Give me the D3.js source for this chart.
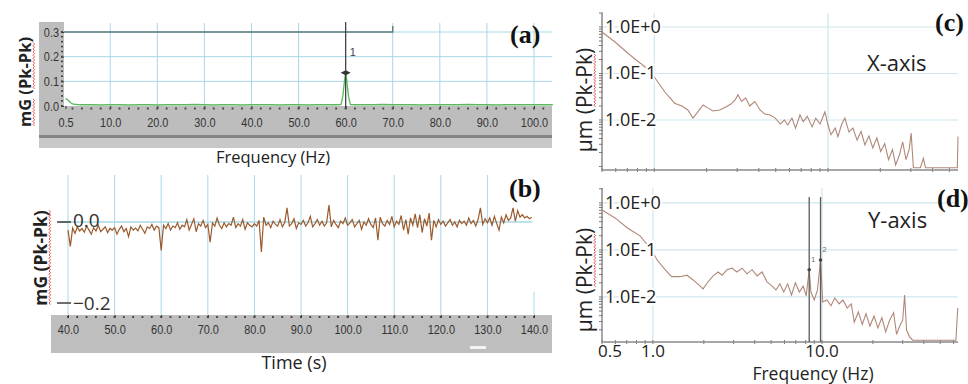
<!DOCTYPE html>
<html>
<head>
<meta charset="utf-8">
<script src="https://cdn.jsdelivr.net/npm/d3@7"></script>
<style>
  body { margin: 0; background: #fff; }
  svg { display: block; }
</style>
</head>
<body>
<svg id="chart"></svg>
<script>
// (a) spectrum, mG vs Hz
const specFreq = [0.5, 0.8, 1.2, 1.6, 2.0, 2.5, 3, 4, 5, 6, 8, 10, 12, 14, 16, 18, 20, 22, 24, 26, 28, 30, 32, 34, 36, 38, 40, 42, 44, 46, 48, 50, 52, 54, 56, 58, 59, 59.4, 59.8, 60, 60.2, 60.6, 61, 62, 64, 66, 68, 70, 72, 74, 76, 78, 80, 82, 84, 86, 88, 90, 92, 94, 96, 98, 100, 102, 104];
const specAmp = [0.030, 0.027, 0.020, 0.013, 0.009, 0.007, 0.006, 0.005, 0.005, 0.005, 0.004, 0.005, 0.005, 0.004, 0.005, 0.005, 0.004, 0.005, 0.005, 0.005, 0.006, 0.005, 0.004, 0.005, 0.005, 0.004, 0.005, 0.005, 0.005, 0.004, 0.005, 0.005, 0.004, 0.005, 0.005, 0.005, 0.006, 0.040, 0.110, 0.135, 0.110, 0.040, 0.006, 0.005, 0.005, 0.005, 0.006, 0.005, 0.005, 0.005, 0.004, 0.005, 0.005, 0.005, 0.005, 0.006, 0.005, 0.005, 0.004, 0.005, 0.005, 0.005, 0.005, 0.005, 0.005];
const specXTicks = [0.5, 10, 20, 30, 40, 50, 60, 70, 80, 90, 100];
const specYTicks = [0, 0.1, 0.2, 0.3];
const specPeak = { freq: 60, amp: 0.135 };
const specRefLine = { freq: 70, amp: 0.3 };

// (b) time signal, one sample every 0.5 s from 40 s
const timeStart = 40;
const timeStep = 0.5;
const timeVals = [
  -0.020, -0.060, -0.015, -0.028, -0.012, -0.022, -0.016, -0.025, -0.010, -0.020,
  -0.030, -0.014, -0.022, -0.008, -0.024, -0.018, -0.012, -0.026, -0.016, -0.020,
  -0.014, -0.030, -0.018, -0.010, -0.024, -0.016, -0.036, -0.012, -0.020, -0.015,
  -0.022, -0.008, -0.018, -0.028, -0.012, -0.016, -0.006, -0.020, -0.010, -0.014,
  -0.070, -0.008, -0.016, -0.004, -0.020, -0.010, -0.014, -0.002, -0.018, -0.008,
  -0.012, 0.006, -0.020, -0.006, 0.008, -0.024, -0.004, -0.010, 0.004, -0.014,
  -0.006, -0.050, -0.002, -0.010, 0.010, -0.008, -0.016, -0.002, -0.012, -0.004,
  -0.008, 0.012, -0.014, -0.004, -0.010, 0.006, -0.018, -0.002, -0.008, -0.012,
  -0.004, -0.010, 0.004, -0.074, 0.012, -0.008, -0.002, -0.014, 0.002, -0.006,
  -0.010, 0.006, -0.012, -0.002, 0.035, -0.010, -0.004, 0.008, -0.016, -0.002,
  -0.006, 0.004, -0.010, -0.002, 0.014, -0.012, -0.004, 0.006, -0.008, 0.002,
  -0.010, -0.002, 0.042, -0.012, 0.004, -0.006, -0.014, 0.002, -0.004, 0.010,
  -0.008, -0.002, 0.006, -0.012, -0.004, 0.004, -0.018, 0.000, -0.008, 0.008,
  -0.006, -0.014, 0.010, -0.045, 0.012, -0.004, -0.010, 0.004, -0.006, 0.014,
  -0.012, 0.002, -0.006, 0.016, -0.020, 0.006, -0.030, 0.010, -0.008, 0.020,
  -0.014, 0.018, -0.026, 0.008, -0.010, 0.022, -0.045, 0.004, -0.012, 0.006,
  -0.006, 0.002, -0.010, -0.002, 0.006, -0.008, 0.000, -0.012, 0.004, -0.004,
  0.002, -0.008, 0.010, -0.004, 0.004, -0.010, 0.006, 0.035, -0.006, 0.008,
  -0.002, 0.010, -0.008, 0.014, -0.004, -0.020, 0.012, -0.002, 0.018, 0.004,
  0.010, 0.035, 0.002, 0.028, 0.012, 0.018, 0.010, 0.014, 0.008, 0.012
];
const timeXTicks = [40, 50, 60, 70, 80, 90, 100, 110, 120, 130, 140];
const timeYTicks = [0, -0.2];

// (c) X-axis displacement spectrum
const xAxisFreq = [0.5, 0.594, 0.725, 0.884, 1.01, 1.15, 1.31, 1.44, 1.56, 1.67, 1.78, 1.91, 2.04, 2.18, 2.38, 2.58, 2.76, 2.92, 3.03, 3.18, 3.36, 3.54, 3.79, 4.06, 4.33, 4.64, 4.97, 5.31, 5.61, 5.86, 6.2, 6.5, 6.9, 7.2, 7.6, 8.1, 8.5, 9.0, 9.6, 10.0, 10.4, 11.0, 11.4, 12.0, 12.5, 13.2, 13.9, 14.7, 15.5, 16.3, 17.2, 18.1, 19.1, 20.1, 21.2, 22.3, 23.5, 24.5, 25.8, 26.9, 28.1, 29.3, 30.1, 31.0, 34.0, 35.4, 36.4, 55.5, 56];
const xAxisAmp = [0.78, 0.476, 0.25, 0.138, 0.08, 0.04, 0.023, 0.020, 0.0164, 0.011, 0.0149, 0.021, 0.018, 0.0156, 0.0164, 0.019, 0.022, 0.027, 0.035, 0.025, 0.030, 0.020, 0.025, 0.0164, 0.0134, 0.0128, 0.011, 0.0082, 0.010, 0.0078, 0.011, 0.0067, 0.0128, 0.0092, 0.012, 0.0071, 0.011, 0.0082, 0.0149, 0.0078, 0.0048, 0.0067, 0.0044, 0.0082, 0.011, 0.0055, 0.0067, 0.0037, 0.0057, 0.0029, 0.0045, 0.0025, 0.0041, 0.0021, 0.0031, 0.0014, 0.0023, 0.00108, 0.0018, 0.0034, 0.0014, 0.0023, 0.0052, 0.00094, 0.00094, 0.0015, 0.00094, 0.00094, 0.0044];

// (d) Y-axis displacement spectrum
const yAxisFreq = [0.5, 0.597, 0.71, 0.84, 0.96, 1.06, 1.18, 1.29, 1.45, 1.59, 1.73, 1.87, 1.98, 2.12, 2.27, 2.43, 2.57, 2.74, 2.94, 3.14, 3.37, 3.6, 3.86, 4.13, 4.42, 4.73, 5.07, 5.34, 5.63, 5.94, 6.26, 6.6, 6.96, 7.34, 7.74, 8.06, 8.4, 8.6, 9.0, 9.4, 9.8, 10.1, 10.7, 11.3, 11.9, 12.6, 13.3, 14.1, 14.9, 15.5, 16.4, 17.3, 18.2, 19.2, 20.3, 21.4, 22.6, 23.8, 25.1, 26.5, 27.6, 28.8, 30.0, 30.8, 31.6, 33.0, 34.4, 61.9, 63.5];
const yAxisAmp = [0.71, 0.48, 0.29, 0.20, 0.11, 0.061, 0.038, 0.027, 0.027, 0.029, 0.023, 0.018, 0.0149, 0.021, 0.028, 0.034, 0.029, 0.038, 0.041, 0.034, 0.041, 0.031, 0.038, 0.028, 0.034, 0.021, 0.017, 0.0141, 0.019, 0.0127, 0.019, 0.011, 0.020, 0.0127, 0.017, 0.0105, 0.038, 0.0127, 0.0086, 0.0141, 0.061, 0.0078, 0.0086, 0.0065, 0.0095, 0.0071, 0.0086, 0.0058, 0.0071, 0.0029, 0.0048, 0.0026, 0.0044, 0.0024, 0.0039, 0.0022, 0.0036, 0.0018, 0.0032, 0.0046, 0.0016, 0.0024, 0.0032, 0.011, 0.0020, 0.0014, 0.0012, 0.0012, 0.0058];
const yCursorFreq = [8.4, 9.8];
const yCursorAmp = [0.038, 0.061];

const logYTicks = [1, 0.1, 0.01];
const logYLabels = ["1.0E+0", "1.0E-1", "1.0E-2"];
const logXTicks = [0.5, 1, 10];
const logXLabels = ["0.5", "1.0", "10.0"];

const width = 968;
const height = 384;
const svg = d3.select("#chart").attr("width", width).attr("height", height);
svg.append("rect").attr("width", width).attr("height", height).attr("fill", "#fff");

const narrow = "'Liberation Sans', Arial, sans-serif";
const sans = "'Open Sans', 'Noto Sans', sans-serif";
const serif = "'Liberation Serif', 'DejaVu Serif', serif";
const gridBlue = "#a9d8e6";

// squeeze text horizontally to mimic a condensed face
function condense(sel, k) {
  sel.each(function () {
    const w = this.getComputedTextLength();
    d3.select(this).attr("textLength", w * k).attr("lengthAdjust", "spacingAndGlyphs");
  });
}

// wavy red spell-check line beside rotated text
function squiggle(x, y0, y1) {
  const pts = [];
  let k = 0;
  for (let y = y0; y <= y1; y += 1.6, k++) pts.push([x + (k % 2 ? 1.6 : 0), y]);
  svg.append("path").attr("d", d3.line()(pts))
    .attr("fill", "none").attr("stroke", "#e0403a").attr("stroke-width", 0.9);
}

// rotated y label with spell-check marks under given char ranges
function yLabel(text, cx, cy, size, weight, marks) {
  const t = svg.append("text")
    .attr("transform", `translate(${cx},${cy}) rotate(-90)`)
    .attr("text-anchor", "middle")
    .attr("font-family", sans).attr("font-size", size).attr("font-weight", weight)
    .attr("fill", "#222").text(text);
  const node = t.node();
  const len = node.getComputedTextLength();
  marks.forEach(([s, n]) => {
    const a = node.getSubStringLength(0, s);
    const b = node.getSubStringLength(s, n);
    squiggle(cx + 2, cy + len / 2 - a - b, cy + len / 2 - a);
  });
}

function styleAxis(g) {
  g.select(".domain").remove();
  g.selectAll(".tick line").attr("stroke", "#333");
  const txt = g.selectAll(".tick text").attr("font-family", narrow).attr("font-size", 13).attr("fill", "#333");
  condense(txt, 0.84);
}

// ---------- (a) ----------
const xa = d3.scaleLinear().domain([0.5, 100]).range([65.5, 534]);
const ya = d3.scaleLinear().domain([0, 0.3]).range([106, 32]);
const aLeft = 64, aRight = 552;

svg.append("rect").attr("x", 39).attr("y", 22).attr("width", aLeft - 39).attr("height", 126).attr("fill", "#bdbdbd");
svg.append("rect").attr("x", 39).attr("y", 106).attr("width", aRight - 39).attr("height", 42).attr("fill", "#bdbdbd");
svg.append("rect").attr("x", 39).attr("y", 135).attr("width", aRight - 39).attr("height", 3).attr("fill", "#858585");
svg.append("rect").attr("x", 39).attr("y", 138).attr("width", aRight - 39).attr("height", 10).attr("fill", "#c8c8c8");

const ga = svg.append("g");
ga.selectAll(".vg").data(specXTicks.slice(1)).enter().append("line")
  .attr("x1", d => xa(d)).attr("x2", d => xa(d)).attr("y1", 23).attr("y2", 106)
  .attr("stroke", gridBlue);
ga.selectAll(".hg").data(specYTicks.slice(1)).enter().append("line")
  .attr("x1", aLeft).attr("x2", aRight).attr("y1", d => ya(d)).attr("y2", d => ya(d))
  .attr("stroke", gridBlue);
// reference line at 0.3 up to 70 Hz
ga.append("path")
  .attr("d", `M${aLeft},${ya(specRefLine.amp)}H${xa(specRefLine.freq)}V${ya(specRefLine.amp) - 6}`)
  .attr("fill", "none").attr("stroke", "#5b7b7b").attr("stroke-width", 1.4);

const gax = svg.append("g").attr("transform", "translate(0,106)")
  .call(d3.axisBottom(xa).tickValues(specXTicks).tickFormat(d3.format(".1f")).tickSize(3).tickPadding(9));
styleAxis(gax);
svg.append("g").selectAll("rect").data(d3.range(2, 104, 2)).enter().append("rect")
  .attr("x", d => xa(d) - 1).attr("y", 107.5).attr("width", 1.8).attr("height", 2).attr("fill", "#444");

const gay = svg.append("g").attr("transform", `translate(${aLeft},0)`)
  .call(d3.axisLeft(ya).tickValues(specYTicks).tickFormat(d3.format(".1f")).tickSize(3).tickPadding(2));
styleAxis(gay);
svg.append("g").selectAll("rect").data(d3.range(0, 0.31, 0.02)).enter().append("rect")
  .attr("x", 61).attr("y", d => ya(d) - 1).attr("width", 2).attr("height", 1.6).attr("fill", "#444");

svg.append("path").datum(specFreq.map((f, i) => [f, specAmp[i]]))
  .attr("d", d3.line().x(d => xa(d[0])).y(d => ya(d[1])))
  .attr("fill", "none").attr("stroke", "#5cb85c").attr("stroke-width", 1.3);

// cursor at the 60 Hz peak
const px = xa(specPeak.freq), py = ya(specPeak.amp);
svg.append("line").attr("x1", px).attr("x2", px).attr("y1", 22).attr("y2", 108)
  .attr("stroke", "#3d3d3d").attr("stroke-width", 1.2);
svg.append("path").attr("d", `M${px - 5},${py}L${px},${py - 2.5}L${px + 5},${py}L${px},${py + 2.5}Z`)
  .attr("fill", "#333");
svg.append("text").attr("x", px + 4).attr("y", 56).attr("font-family", narrow)
  .attr("font-size", 11).attr("fill", "#444").text("1");

svg.append("text").attr("x", 273).attr("y", 163).attr("text-anchor", "middle")
  .attr("font-family", sans).attr("font-size", 16.5).attr("fill", "#222").text("Frequency (Hz)");
svg.append("text").attr("x", 510).attr("y", 43).attr("font-family", serif)
  .attr("font-size", 26).attr("font-weight", "bold").attr("fill", "#111").text("(a)");
yLabel("mG (Pk-Pk)", 31, 82, 16.5, "bold", [[0, 2], [4, 5]]);

// ---------- (b) ----------
const xb = d3.scaleLinear().domain([40, 140]).range([68, 534]);
const yb = d3.scaleLinear().domain([-0.2, 0]).range([303, 222]);

svg.append("g").selectAll("line").data(timeXTicks).enter().append("line")
  .attr("x1", d => xb(d)).attr("x2", d => xb(d))
  .attr("y1", d => d === 140 ? 292 : 175).attr("y2", 315)
  .attr("stroke", gridBlue);
svg.append("line").attr("x1", 60).attr("x2", 532).attr("y1", yb(0)).attr("y2", yb(0))
  .attr("stroke", gridBlue).attr("stroke-width", 1.5);

svg.append("rect").attr("x", 51).attr("y", 315).attr("width", 501).attr("height", 38).attr("fill", "#bebebe");
svg.append("rect").attr("x", 470).attr("y", 346).attr("width", 16).attr("height", 3).attr("fill", "#f4f4f4");
const gbx = svg.append("g").attr("transform", "translate(0,315)")
  .call(d3.axisBottom(xb).tickValues(timeXTicks).tickFormat(d3.format(".1f")).tickSize(3).tickPadding(7));
styleAxis(gbx);
svg.append("g").selectAll("rect").data(d3.range(40, 141, 2)).enter().append("rect")
  .attr("x", d => xb(d) - 1).attr("y", 316).attr("width", 1.8).attr("height", 2).attr("fill", "#444");

svg.append("path").datum(timeVals)
  .attr("d", d3.line().x((d, i) => xb(timeStart + i * timeStep)).y(d => yb(d)))
  .attr("fill", "none").attr("stroke", "#9c5a2c").attr("stroke-width", 1.2);

const gby = svg.append("g");
gby.selectAll("line").data(timeYTicks).enter().append("line")
  .attr("x1", 57).attr("x2", 71).attr("y1", d => yb(d)).attr("y2", d => yb(d))
  .attr("stroke", "#333").attr("stroke-width", 1.4);
gby.selectAll("text").data(timeYTicks).enter().append("text")
  .attr("x", 73).attr("y", d => yb(d) + (d === 0 ? 5 : 7))
  .attr("font-family", sans).attr("font-size", 19).attr("fill", "#333")
  .text(d3.format(".1f"));

svg.append("text").attr("x", 294).attr("y", 369).attr("text-anchor", "middle")
  .attr("font-family", sans).attr("font-size", 18).attr("fill", "#222").text("Time (s)");
svg.append("text").attr("x", 509).attr("y", 197).attr("font-family", serif)
  .attr("font-size", 26).attr("font-weight", "bold").attr("fill", "#111").text("(b)");
yLabel("mG (Pk-Pk)", 47, 258, 17.5, "bold", [[0, 10]]);

// ---------- (c) and (d) ----------
function logPanel(freq, amp, xDom, yDom, top, bottom) {
  const x = d3.scaleLog().domain(xDom).range([602, 958]);
  const y = d3.scaleLog().domain(yDom).range([bottom, top]);
  const g = svg.append("g");
  g.selectAll(".hg").data(logYTicks).enter().append("line")
    .attr("x1", 602).attr("x2", 958).attr("y1", d => y(d)).attr("y2", d => y(d))
    .attr("stroke", "#cfe6ee").attr("stroke-width", 1.2);
  g.selectAll(".vg").data([1, 10]).enter().append("line")
    .attr("x1", d => x(d)).attr("x2", d => x(d)).attr("y1", top).attr("y2", bottom)
    .attr("stroke", "#cfe6ee").attr("stroke-width", 1.2);
  // minor ticks
  const yMinor = [];
  [0.001, 0.01, 0.1, 1].forEach(p => d3.range(1, 10).forEach(k => {
    const v = p * k;
    if (v >= yDom[0] && v <= yDom[1]) yMinor.push(v);
  }));
  g.selectAll(".ym").data(yMinor).enter().append("line")
    .attr("x1", 599).attr("x2", 603).attr("y1", d => y(d)).attr("y2", d => y(d))
    .attr("stroke", "#777");
  const xMinor = [];
  [0.1, 1, 10].forEach(p => d3.range(1, 10).forEach(k => {
    const v = p * k;
    if (v >= xDom[0] && v <= xDom[1]) xMinor.push(v);
  }));
  g.selectAll(".xm").data(xMinor).enter().append("line")
    .attr("x1", d => x(d)).attr("x2", d => x(d)).attr("y1", bottom - 2).attr("y2", bottom + 2)
    .attr("stroke", "#777");
  g.append("path").attr("d", `M602,${top}V${bottom}H958`)
    .attr("fill", "none").attr("stroke", "#8a8a8a").attr("stroke-width", 1.5);
  g.append("path").datum(freq.map((f, i) => [f, amp[i]]))
    .attr("d", d3.line().x(d => x(d[0])).y(d => y(Math.max(d[1], yDom[0]))))
    .attr("fill", "none").attr("stroke", "#b08878").attr("stroke-width", 1.1);
  g.selectAll(".yl").data(logYTicks).enter().append("text")
    .attr("x", 605).attr("y", d => y(d) + 6)
    .attr("font-family", sans).attr("font-size", 18).attr("fill", "#222")
    .attr("stroke", "#fff").attr("stroke-width", 4).attr("paint-order", "stroke")
    .text((d, i) => logYLabels[i]);
  return { x, y };
}

const pc = logPanel(xAxisFreq, xAxisAmp, [0.5, 56], [8.4e-4, 2.0], 13, 170);
svg.append("text").attr("x", 867).attr("y", 71).attr("font-family", sans)
  .attr("font-size", 22).attr("fill", "#222").text("X-axis");
svg.append("text").attr("x", 935).attr("y", 31).attr("font-family", serif)
  .attr("font-size", 26).attr("font-weight", "bold").attr("fill", "#111").text("(c)");
yLabel("\u00b5m (Pk-Pk)", 592, 100, 21, "normal", [[4, 5]]);

const pd = logPanel(yAxisFreq, yAxisAmp, [0.5, 63.7], [1.1e-3, 2.08], 188, 342);
yCursorFreq.forEach((f, i) => {
  const cx = pd.x(f);
  svg.append("line").attr("x1", cx).attr("x2", cx).attr("y1", 197).attr("y2", 342)
    .attr("stroke", "#5a5a5a").attr("stroke-width", 1.3);
  svg.append("circle").attr("cx", cx).attr("cy", pd.y(yCursorAmp[i])).attr("r", 1.8).attr("fill", "#444");
  svg.append("text").attr("x", cx + 2).attr("y", pd.y(yCursorAmp[i]) - 8)
    .attr("font-family", narrow).attr("font-size", 7).attr("fill", "#666").text(i + 1);
});
svg.append("g").selectAll("text").data(logXTicks).enter().append("text")
  .attr("x", d => pd.x(d) + (d === 0.5 ? 8 : 0)).attr("y", 357).attr("text-anchor", "middle")
  .attr("font-family", sans).attr("font-size", 17).attr("fill", "#222")
  .text((d, i) => logXLabels[i]);
svg.append("text").attr("x", 813).attr("y", 380).attr("text-anchor", "middle")
  .attr("font-family", sans).attr("font-size", 17.5).attr("fill", "#222").text("Frequency (Hz)");
svg.append("text").attr("x", 868).attr("y", 228).attr("font-family", sans)
  .attr("font-size", 22).attr("fill", "#222").text("Y-axis");
svg.append("text").attr("x", 937).attr("y", 207).attr("font-family", serif)
  .attr("font-size", 26).attr("font-weight", "bold").attr("fill", "#111").text("(d)");
yLabel("\u00b5m (Pk-Pk)", 592, 280, 21, "normal", [[4, 5]]);
</script>
</body>
</html>
